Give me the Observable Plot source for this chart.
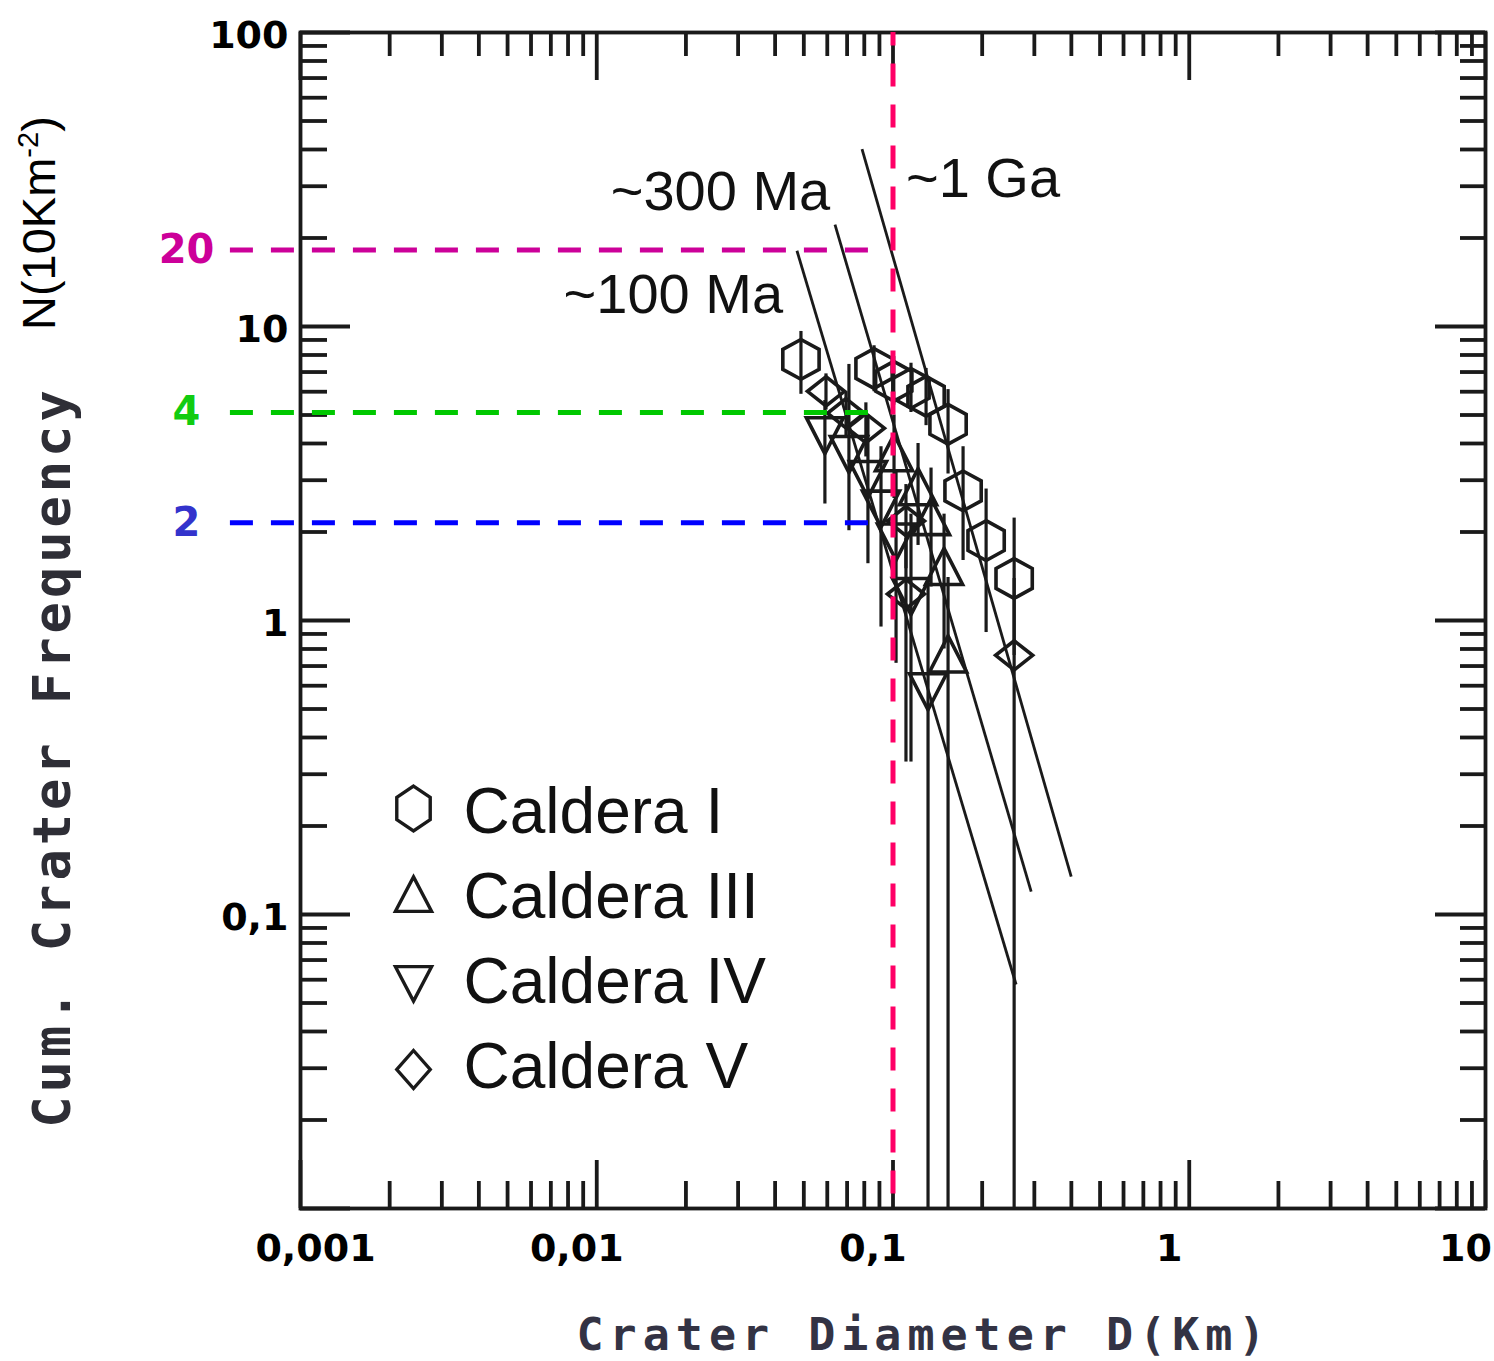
<!DOCTYPE html>
<html><head><meta charset="utf-8">
<script src="https://cdn.jsdelivr.net/npm/d3@7"></script>
<script src="https://cdn.jsdelivr.net/npm/@observablehq/plot@0.6"></script>
<style>body{margin:0;background:#fff} svg{display:block}</style>
</head><body><div id="chart"></div>
<script>
// ---------------- data ----------------
const calderas = ["Caldera I", "Caldera III", "Caldera IV", "Caldera V"];

const cal1D  = [0.0489, 0.0863, 0.1006, 0.1150, 0.1293, 0.1534, 0.1724, 0.2062, 0.2564];
const cal1N  = [7.73, 7.20, 6.51, 6.16, 5.79, 4.65, 2.76, 1.87, 1.39];
const cal1Lo = [5.88, 6.0, 5.4, 5.1, 4.6, 3.15, 1.6, 0.91, 0.76];
const cal1Hi = [9.62, 8.6, 7.9, 7.5, 7.2, 6.1, 3.9, 2.8, 2.23];

const cal3D  = [0.1008, 0.1215, 0.1344, 0.1487, 0.1534];
const cal3N  = [3.68, 2.82, 2.23, 1.51, 0.761];
const cal3Lo = [2.6, 1.8, 1.3, 0.8, 0.01];
const cal3Hi = [5.0, 4.0, 3.3, 2.3, 1.4];

const cal4D  = [0.0589, 0.0710, 0.0823, 0.0911, 0.1024, 0.1150, 0.1313];
const cal4N  = [4.30, 3.71, 3.05, 2.42, 1.87, 1.22, 0.579];
const cal4Lo = [2.49, 2.02, 1.56, 0.95, 0.715, 0.33, 0.01];
const cal4Hi = [5.6, 7.43, 5.0, 3.9, 3.2, 2.3, 1.4];

const cal5D  = [0.0594, 0.0694, 0.0810, 0.1106, 0.1106, 0.2564];
const cal5N  = [6.02, 5.07, 4.51, 2.18, 1.23, 0.761];
const cal5Lo = [5.2, 4.2, 3.6, 1.5, 0.33, 0.01];
const cal5Hi = [6.9, 6.0, 5.5, 2.9, 1.9, 1.39];

// isochrons
const isoLabels = ["~100 Ma", "~300 Ma", "~1 Ga"];
const isoD1 = [0.0474, 0.0637, 0.0786];
const isoN1 = [18.1, 22.2, 40.1];
const isoD2 = [0.2603, 0.2927, 0.3995];
const isoN2 = [0.0578, 0.1197, 0.1345];
const isoLabelD = [0.00773, 0.01115, 0.1106];
const isoLabelN = [12.8, 28.7, 31.7];

// guide lines
const guideLabels = ["20", "4", "2"];
const guideN = [18.2, 5.1, 2.15];
const guideSpanD = [0.00058, 0.0888];
const markerD = [0.1];
const markerSpanN = [0.0112, 100];

// axes
const xTickValues = [0.001, 0.01, 0.1, 1, 10];
const xTickLabels = ["0,001", "0,01", "0,1", "1", "10"];
const yTickValues = [100, 10, 1, 0.1];
const yTickLabels = ["100", "10", "1", "0,1"];
const minorMultipliers = [2, 3, 4, 5, 6, 7, 8, 9];
const xDecades = [0.001, 0.01, 0.1, 1];
const yDecades = [0.01, 0.1, 1, 10];
const yMajor = [0.01, 0.1, 1, 10, 100];

// ---------------- styles ----------------
const W = 1494, H = 1361, ML = 300, MR = 9, MT = 32, MB = 153;
const FW = W - ML - MR, FH = H - MT - MB;
const ink = "#1a1a1a";
const guideColors = ["#cc0099", "#00c800", "#0000ff"];
const guideTextColors = ["#cc0099", "#11cc11", "#3333cc"];
const markerColor = "#ff0066";

const xMinor = xDecades.flatMap(d => minorMultipliers.map(m => m * d));
const yMinor = yDecades.flatMap(d => minorMultipliers.map(m => m * d));

function hexagon(ws, hs) {
  return {draw(ctx, size) {
    const r = Math.sqrt(size / Math.PI), w = r * ws, h = r * hs;
    ctx.moveTo(0, -h); ctx.lineTo(w, -h / 2); ctx.lineTo(w, h / 2);
    ctx.lineTo(0, h); ctx.lineTo(-w, h / 2); ctx.lineTo(-w, -h / 2); ctx.closePath();
  }};
}
function triangle(ws, hs, flip) {
  return {draw(ctx, size) {
    const r = Math.sqrt(size / Math.PI), w = r * ws, h = r * hs, s = flip ? -1 : 1;
    ctx.moveTo(0, -h * s); ctx.lineTo(w, 0.85 * h * s); ctx.lineTo(-w, 0.85 * h * s); ctx.closePath();
  }};
}
function diamond(ws, hs) {
  return {draw(ctx, size) {
    const r = Math.sqrt(size / Math.PI), w = r * ws, h = r * hs;
    ctx.moveTo(0, -h); ctx.lineTo(w, 0); ctx.lineTo(0, h); ctx.lineTo(-w, 0); ctx.closePath();
  }};
}
const dataSymbols = [hexagon(0.93, 1.02), triangle(0.95, 1.0, false), triangle(0.95, 1.0, true), diamond(0.95, 0.75)];
const legendSymbols = [hexagon(0.88, 1.18), triangle(0.95, 0.98, false), triangle(0.95, 0.98, true), diamond(0.88, 1.0)];

const series = [
  [cal1D, cal1N, cal1Lo, cal1Hi],
  [cal3D, cal3N, cal3Lo, cal3Hi],
  [cal4D, cal4N, cal4Lo, cal4Hi],
  [cal5D, cal5N, cal5Lo, cal5Hi]
].map(([D, N, lo, hi], k) => D.map((d, i) => ({caldera: calderas[k], D: d, N: N[i], lo: lo[i], hi: hi[i]})));

const isochrons = isoLabels.map((l, i) => ({label: l, D1: isoD1[i], N1: isoN1[i], D2: isoD2[i], N2: isoN2[i], LD: isoLabelD[i], LN: isoLabelN[i]}));

const marks = [];
// ticks (inward)
const tickStyle = {stroke: ink, strokeWidth: 3.8};
marks.push(
  Plot.tickY(yMinor, {y: d => d, insetRight: FW - 27, ...tickStyle}),
  Plot.tickY(yMajor, {y: d => d, insetRight: FW - 50, ...tickStyle}),
  Plot.tickY(yMinor, {y: d => d, insetLeft: FW - 25, ...tickStyle}),
  Plot.tickY(yMajor, {y: d => d, insetLeft: FW - 50, ...tickStyle}),
  Plot.tickX(xMinor, {x: d => d, insetBottom: FH - 24, ...tickStyle}),
  Plot.tickX(xTickValues, {x: d => d, insetBottom: FH - 48, ...tickStyle}),
  Plot.tickX(xMinor, {x: d => d, insetTop: FH - 27, ...tickStyle}),
  Plot.tickX(xTickValues, {x: d => d, insetTop: FH - 48, ...tickStyle}),
  Plot.frame({stroke: ink, strokeWidth: 3.8})
);
// tick labels
const tickFont = {fontFamily: "DejaVu Sans", fontWeight: "bold", fontSize: 38, fill: "#000"};
marks.push(
  Plot.text(yTickValues, {y: d => d, text: (d, i) => yTickLabels[i], frameAnchor: "left", textAnchor: "end", dx: -12, dy: 3, ...tickFont}),
  Plot.text(xTickValues, {filter: (d, i) => i === 0, x: d => d, text: (d, i) => xTickLabels[i], frameAnchor: "bottom", dy: 52, dx: 15, ...tickFont}),
  Plot.text(xTickValues, {filter: (d, i) => i > 0, x: d => d, text: (d, i) => xTickLabels[i], frameAnchor: "bottom", dy: 52, dx: -20, ...tickFont})
);
// isochrons
marks.push(
  Plot.link(isochrons, {x1: "D1", y1: "N1", x2: "D2", y2: "N2", stroke: ink, strokeWidth: 2.8}),
  Plot.text(isochrons, {x: "LD", y: "LN", text: "label", textAnchor: "start", fontFamily: "Liberation Sans", fontSize: 56, fill: "#111"})
);
// data: error bars + symbols
series.forEach((s) => {
  marks.push(Plot.ruleX(s, {x: "D", y1: "lo", y2: "hi", stroke: ink, strokeWidth: 3.2}));
});
series.forEach((s, k) => {
  marks.push(Plot.dot(s, {x: "D", y: "N", r: 19.5, symbol: dataSymbols[k], fill: "none", stroke: ink, strokeWidth: 3.6}));
});
// legend
calderas.forEach((c, i) => {
  marks.push(
    Plot.dot([c], {frameAnchor: "top-left", dx: 113, dy: 776 + 87 * i, r: 19, symbol: legendSymbols[i], fill: "none", stroke: ink, strokeWidth: 3.4}),
    Plot.text([c], {frameAnchor: "top-left", dx: 163, dy: 755 + 85 * i, text: d => d, textAnchor: "start", fontFamily: "Liberation Sans", fontSize: 64, fill: "#111"})
  );
});
// guides
guideN.forEach((n, i) => {
  marks.push(
    Plot.ruleY([n], {y: d => d, x1: guideSpanD[0], x2: guideSpanD[1], stroke: guideColors[i], strokeWidth: 5, strokeDasharray: "23,18"}),
    Plot.text([n], {y: d => d, text: () => guideLabels[i], frameAnchor: "left", dx: -114, textAnchor: "middle", fontFamily: "DejaVu Sans", fontWeight: "bold", fontSize: 40, fill: guideTextColors[i]})
  );
});
marks.push(Plot.ruleX(markerD, {x: d => d, y1: markerSpanN[0], y2: markerSpanN[1], stroke: markerColor, strokeWidth: 5, strokeDasharray: "23,18"}));

const chart = Plot.plot({
  width: W, height: H,
  marginLeft: ML, marginRight: MR, marginTop: MT, marginBottom: MB,
  x: {type: "log", domain: [0.001, 10], axis: null},
  y: {type: "log", domain: [0.01, 100], axis: null},
  style: {background: "#fff", overflow: "visible", fontFamily: "DejaVu Sans"},
  marks
});
document.getElementById("chart").append(chart);

// axis titles
const svg = d3.select(chart);
svg.append("text")
  .attr("transform", "translate(70,757) rotate(-90)")
  .attr("text-anchor", "middle")
  .attr("font-family", "DejaVu Sans Mono").attr("font-weight", "bold")
  .attr("font-size", 52).attr("letter-spacing", 4).attr("fill", "#2e2e36")
  .text("Cum. Crater Frequency");
const nt = svg.append("text")
  .attr("transform", "translate(55,330) rotate(-90)")
  .attr("text-anchor", "start")
  .attr("font-family", "Liberation Sans").attr("font-size", 47).attr("fill", "#000");
nt.append("tspan").text("N(10Km");
nt.append("tspan").attr("font-size", 29).attr("dy", -17).text("-2");
nt.append("tspan").attr("dy", 17).text(")");
svg.append("text")
  .attr("x", 924).attr("y", 1350)
  .attr("text-anchor", "middle")
  .attr("font-family", "DejaVu Sans Mono").attr("font-weight", "bold")
  .attr("font-size", 45).attr("letter-spacing", 6).attr("fill", "#333344")
  .text("Crater Diameter D(Km)");
</script>
</body></html>
